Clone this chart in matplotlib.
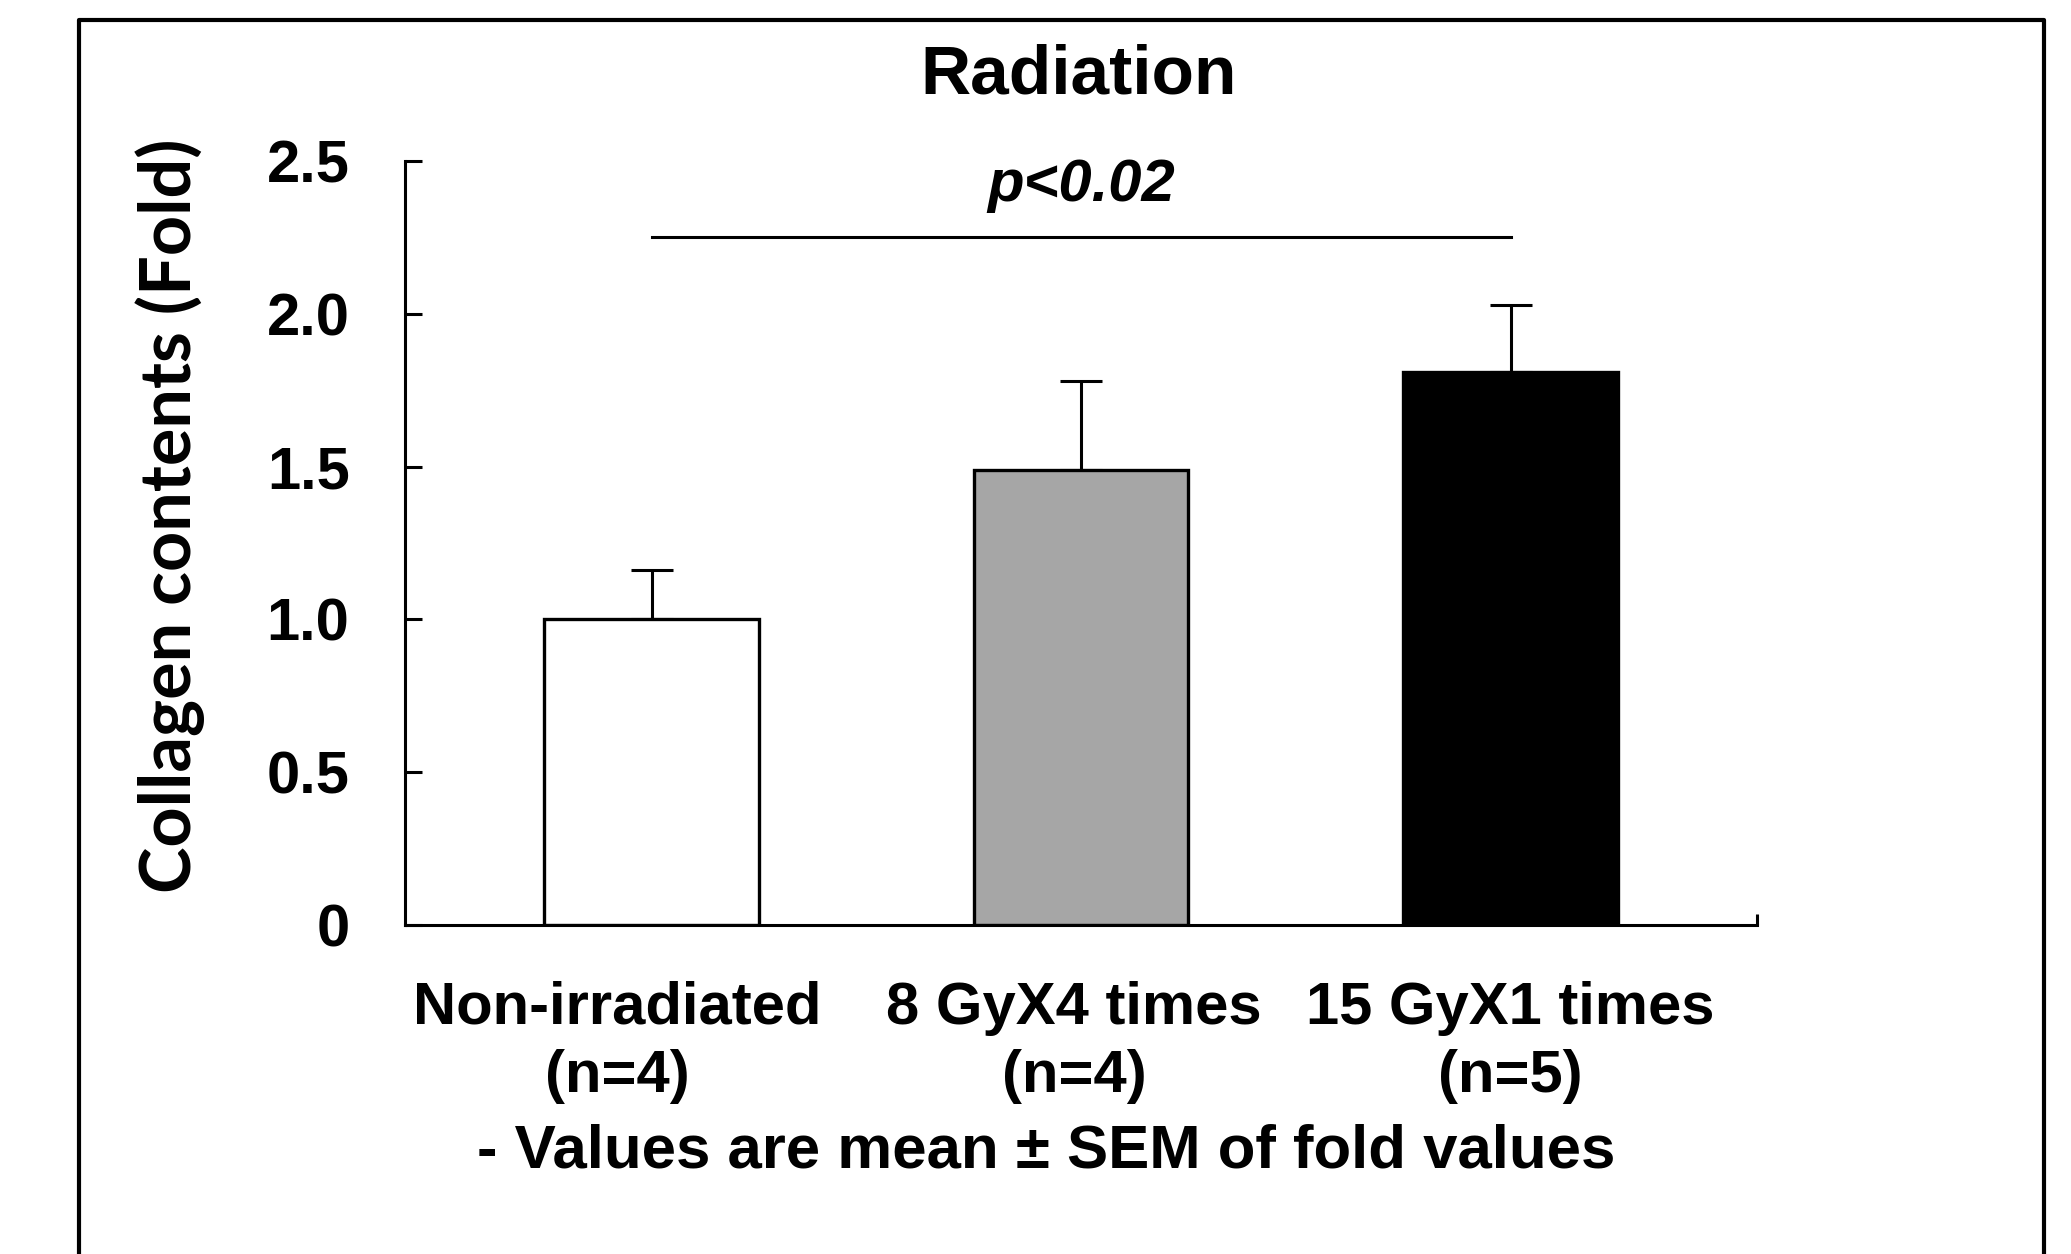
import numpy as np
import matplotlib.pyplot as plt
from matplotlib.lines import Line2D
from matplotlib.transforms import ScaledTranslation

groups = ["Non-irradiated\n(n=4)", "8 GyX4 times\n(n=4)", "15 GyX1 times\n(n=5)"]
means = [1.0, 1.49, 1.81]
sems = [0.16, 0.29, 0.22]
fills = ["white", "#a6a6a6", "black"]
yticks = [0, 0.5, 1.0, 1.5, 2.0, 2.5]
ytick_labels = ["0", "0.5", "1.0", "1.5", "2.0", "2.5"]

plt.rcParams['font.family'] = ['Liberation Sans', 'DejaVu Sans']
plt.rcParams['font.weight'] = 'bold'

fig = plt.figure(figsize=(20.71, 12.54), dpi=100)
ax = fig.add_axes([0.1956, 0.2624, 0.6528, 0.6092])

x = np.arange(len(groups))
ax.bar(x, means, width=0.5, color=fills, edgecolor="black", linewidth=2.4, zorder=2)
ax.errorbar(x, means, yerr=[np.zeros(len(sems)), sems], fmt="none", ecolor="black",
            elinewidth=2.2, capsize=15, capthick=2.2, zorder=1)

ax.set_xlim(-0.574, 2.574)
ax.set_ylim(0, 2.5)
for s in ["top", "right"]:
    ax.spines[s].set_visible(False)
for s in ["left", "bottom"]:
    ax.spines[s].set_linewidth(2.2)

ax.set_yticks(yticks)
ax.set_yticklabels(ytick_labels)
ax.tick_params(axis="y", direction="in", length=12, width=2.2, pad=40, labelsize=43)
ax.set_xticks(x)
ax.set_xticklabels(groups, linespacing=1.32)
ax.tick_params(axis="x", length=0, pad=40, labelsize=43)
ax.set_xticks([2.574], minor=True)
ax.tick_params(axis="x", which="minor", direction="in", length=8, width=2.2)

# Excel pushed the first two labels a little to the left
for lbl, dx in zip(ax.get_xticklabels(), [-0.34, -0.07, 0]):
    lbl.set_transform(lbl.get_transform() + ScaledTranslation(dx, 0, fig.dpi_scale_trans))

# significance bar
ax.plot([0, 2], [2.25, 2.25], color="black", lw=2.2, clip_on=False)
ax.text(1, 2.42, "p<0.02", ha="center", va="center", fontsize=43, style="italic",
        fontweight="bold")

fig.text(0.521, 0.94, "Radiation", ha="center", va="center", fontsize=50, fontweight="bold")
fig.text(0.082, 0.589, "Collagen contents (Fold)", rotation=90, ha="center", va="center",
         fontsize=50.5, fontweight="bold", family=["Lato", "DejaVu Sans"])
fig.text(0.505, 0.081, "- Values are mean \u00b1 SEM of fold values", ha="center", va="center",
         fontsize=44.5, fontweight="bold")

# open frame round the figure
fig.add_artist(Line2D([0.0381, 0.0381, 0.987, 0.987], [0, 0.984, 0.984, 0],
                      color="black", lw=3, transform=fig.transFigure))

fig.savefig("out.png", dpi=100)
